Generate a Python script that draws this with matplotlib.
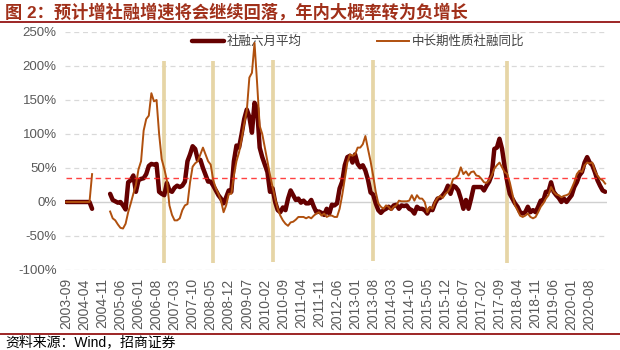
import matplotlib
matplotlib.use('Agg')
import matplotlib.pyplot as plt
from matplotlib.lines import Line2D
import numpy as np
import pandas as pd

''' social financing: six-month average vs medium/long-term yoy growth
monthly, 2003-09 to 2021-02
'''

nan = np.nan

start_month = '2003-09'

# 社融六月平均 (%)
tsf_6m_avg = [
	0, 0, 0, 0, 0, 0, 0, 0, 0, 0, -10,
	nan, nan, nan, nan, nan, nan,
	12, 3, 1, -1, 0, -5, -11, 29, 32, 39, 15, 32, 34,
	35, 41, 53, 56, 55, 56, 15, 12, 10, 28, 17, 15, 21, 24, 22,
	24, 30, 60, 70, 82, 78, 62, 62, 50, 40, 30, 30, 24, 17, 10,
	5, -2, 7, 17, 15, 60, 83, 80, 100, 122, 136, 125, 102, 146, 138,
	80, 66, 55, 44, 15, 20, 0, -12, -15, -8, -12, 5, 17, 10, 3,
	5, -1, 2, -2, -2, 3, -7, -15, -14, -16, -19, -10, -17, -4, -5,
	-2, 20, 30, 54, 66, 68, 58, 70, 56, 51, 54, 46, 33, 14, 11,
	-2, -12, -16, -12, -10, -7, -10, -5, -4, -10, -5, -6, -5, -10, -12,
	-17, -7, -10, -10, -12, -17, -10, -12, -2, 5, 6, 10, 15, 24, 12,
	24, 22, 17, 5, -10, 3, -10, 5, 22, 22, 22, 22, 17, 24, 30,
	40, 78, 80, 93, 78, 52, 30, 12, 5, -2, -7, -15, -17, -15, -7,
	-15, -12, -15, -7, 2, 2, 15, 15, 29, 15, 10, 6, 0, 5, 0,
	5, 10, 22, 29, 39, 44, 58, 66, 58, 54, 44, 32, 24, 17, 15,
]

# 中长期性质社融同比 (%)
tsf_longterm_yoy = [
	0, 0, 0, 0, 0, 0, 0, 0, 0, 0, 41,
	nan, nan, nan, nan, nan, nan,
	-14, -24, -27, -33, -38, -39, -32, -15, -2, 12, 25, 48, 60,
	105, 122, 127, 160, 148, 150, 100, 63, 49, 32, -5, -19, -27, -27, -24,
	-12, -5, -3, 29, 52, 57, 60, 70, 80, 70, 60, 55, 32, 20, 12,
	2, -15, -5, 12, 12, 39, 60, 73, 93, 115, 134, 183, 190, 234, 175,
	112, 100, 80, 60, 40, 22, 5, -10, -20, -27, -32, -35, -30, -29, -26,
	-22, -22, -22, -24, -22, -24, -20, -17, -15, -20, -17, -22, -20, -20, -22,
	-22, -10, 10, 34, 58, 70, 68, 70, 80, 80, 85, 97, 78, 60, 39,
	15, -2, -7, -10, -5, -7, -12, -7, -5, 2, 1, 1, 1, 2, 10,
	2, 10, 5, 5, 0, -15, -7, -10, 0, 6, 9, 6, 12, 15, 22,
	34, 35, 39, 51, 41, 45, 39, 44, 45, 39, 38, 34, 29, 28, 32,
	39, 49, 54, 58, 51, 44, 41, 29, 12, -5, -12, -20, -22, -20, -17,
	-22, -24, -22, -15, -7, -2, 5, 10, 22, 15, 11, 10, 7, 9, 10,
	12, 20, 29, 41, 46, 44, 54, 58, 57, 58, 46, 39, 34, 32, 27,
]

# tightening months, drawn as tan bars
bar_months = ['2006-11', '2008-06', '2010-05', '2013-08', '2017-12']
bar_top = [207, 207, 209, 209, 207]
bar_bottom = [-90, -89, -88, -87, -90]

threshold = 35

label_step = 7


def main():
	plt.rcParams['font.family'] = ['Liberation Sans', 'Noto Sans CJK SC', 'DejaVu Sans']

	months = pd.period_range(start_month, periods=len(tsf_6m_avg), freq='M')
	idx = np.arange(len(months))
	month_str = [str(p) for p in months]
	bar_idx = [month_str.index(b) for b in bar_months]

	fig = plt.figure(figsize=(6.2, 3.5), dpi=100)
	ax = fig.add_axes([65/620, 1-270/350, (607-65)/620, (270-32)/350])

	# grid
	for v in range(-100, 251, 50):
		if v == 0:
			ax.axhline(0, color='#D0D0D0', lw=1.0, zorder=0)
		else:
			ax.axhline(v, color='#D9D9D9', lw=0.9, ls=(0, (4, 3)), zorder=0)

	ax.vlines(bar_idx, bar_bottom, bar_top, color='#E6D5A6', lw=2.7, zorder=1)

	ax.plot(idx, tsf_6m_avg, color='#650000', lw=3.2, solid_capstyle='round',
		solid_joinstyle='round', zorder=2, label='社融六月平均')
	ax.plot(idx, tsf_longterm_yoy, color='#B0500E', lw=1.4, zorder=2.5,
		label='中长期性质社融同比')
	ax.hlines(threshold, idx[0], idx[-1], color='#FF2020', lw=1.0,
		linestyles=(0, (4, 3)), alpha=0.85, zorder=3)

	ax.set_xlim(-0.5, len(idx) - 0.3)
	ax.set_ylim(-100, 250)
	ax.set_yticks(range(-100, 251, 50))
	ax.set_yticklabels(['{}%'.format(v) for v in range(-100, 251, 50)])
	ax.set_xticks(idx[::label_step])
	ax.set_xticklabels(month_str[::label_step], rotation=90)
	ax.tick_params(axis='y', length=0, labelsize=9.5, colors='#595959', pad=6)
	ax.tick_params(axis='x', length=0, labelsize=10, colors='#595959', pad=6)
	for s in ax.spines.values():
		s.set_visible(False)

	leg = ax.legend(loc='upper left', bbox_to_anchor=(0.225, 1.005), ncol=2,
		frameon=False, fontsize=9, handlelength=2.6, handletextpad=0.2,
		columnspacing=6.0, borderaxespad=0)
	for t in leg.get_texts():
		t.set_color('#404040')
	leg.set_zorder(1)

	fig.text(5/620, 1-12/350, '图 2：预计增社融增速将会继续回落，年内大概率转为负增长',
		fontsize=12.4, fontweight='bold', color='#A0301A', va='center', ha='left')
	fig.add_artist(Line2D([0, 1], [1-22/350, 1-22/350], color='#8B0000', lw=1.2))
	fig.add_artist(Line2D([0, 1], [1-334/350, 1-334/350], color='#8B0000', lw=1.2))
	fig.text(5/620, 1-342/350, '资料来源：Wind，招商证券', fontsize=10,
		color='black', va='center', ha='left')

	fig.savefig('out.png', dpi=100)


if __name__ == "__main__":
	main()
